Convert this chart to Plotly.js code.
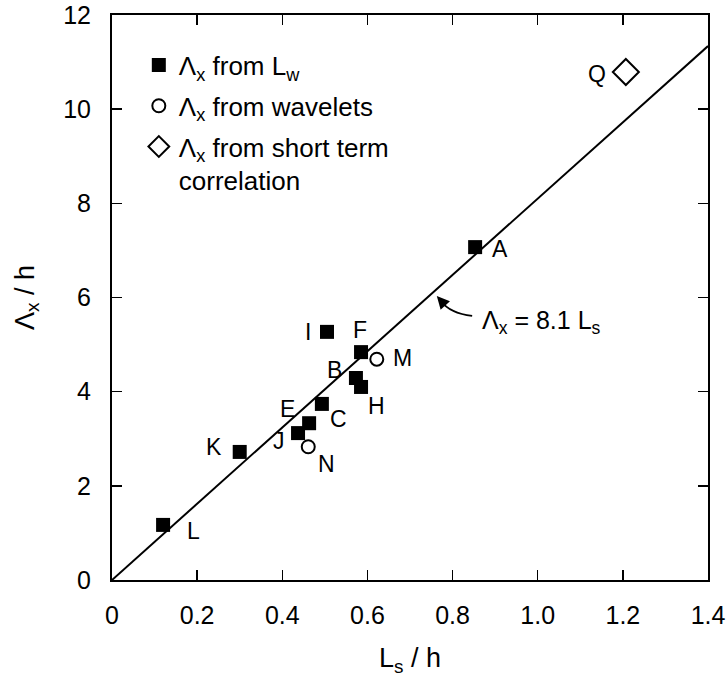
<!DOCTYPE html>
<html>
<head>
<meta charset="utf-8">
<script src="https://cdn.plot.ly/plotly-3.0.1.min.js"></script>
<style>html,body{margin:0;padding:0;background:#fff;}#chart{width:728px;height:689px;}</style>
</head>
<body>
<div id="chart"></div>
<script>
// Λx from Lw (filled squares)
const lwLabels = ["L","K","J","E","C","B","H","F","I","A"];
const lwX = [0.120, 0.300, 0.437, 0.463, 0.493, 0.573, 0.585, 0.585, 0.505, 0.853];
const lwY = [1.17, 2.72, 3.12, 3.33, 3.74, 4.29, 4.10, 4.84, 5.27, 7.07];
// Λx from wavelets (open circles)
const wvLabels = ["N","M"];
const wvX = [0.461, 0.622];
const wvY = [2.83, 4.69];
// Λx from short term correlation (open diamond)
const stLabels = ["Q"];
const stX = [1.207];
const stY = [10.79];
// fit line Λx = 8.1 Ls
const fitX = [0, 1.4];
const fitY = [0, 11.34];
// point-label positions (data coords)
const labelText = ["L","K","J","E","C","B","H","F","I","A","N","M","Q"];
const labelX = [0.191, 0.239, 0.393, 0.413, 0.533, 0.523, 0.622, 0.583, 0.460, 0.911, 0.505, 0.683, 1.140];
const labelY = [1.04, 2.83, 2.95, 3.63, 3.43, 4.45, 3.69, 5.31, 5.27, 7.04, 2.47, 4.71, 10.74];

const font = "Liberation Sans, Arial, Helvetica, sans-serif";

const traces = [
  {x: fitX, y: fitY, mode: "lines", line: {color: "#000", width: 2}, showlegend: false, hoverinfo: "skip"},
  {x: lwX, y: lwY, text: lwLabels, mode: "markers", name: "Λ<sub>x</sub> from L<sub>w</sub>", legendgroup: "g1",
   marker: {symbol: "square", size: 14, color: "#000"}},
  {x: wvX, y: wvY, text: wvLabels, mode: "markers", name: "Λ<sub>x</sub> from wavelets", legendgroup: "g2",
   marker: {symbol: "circle-open", size: 13, color: "#000", line: {width: 2, color: "#000"}}},
  {x: stX, y: stY, text: stLabels, mode: "markers", name: "Λ<sub>x</sub> from short term<br>correlation", legendgroup: "g3",
   marker: {symbol: "diamond-open", size: 20, color: "#000", line: {width: 2, color: "#000"}}}
];

const annotations = labelText.map((t, i) => ({
  x: labelX[i], y: labelY[i], xref: "x", yref: "y", text: t, showarrow: false,
  font: {family: font, size: 23, color: "#000"}
}));
annotations.push({
  x: 1.008, y: 5.48, xref: "x", yref: "y", text: "Λ<sub>x</sub> = 8.1 L<sub>s</sub>", showarrow: false,
  font: {family: font, size: 25, color: "#000"}
});
annotations.push({
  x: 0.763, y: 6.03, xref: "x", yref: "y", text: "", showarrow: true,
  ax: 10, ay: 11, arrowhead: 2, arrowsize: 1.4, arrowwidth: 1.8, arrowcolor: "#000"
});

const axisCommon = {
  showgrid: false, zeroline: false, showline: true, linecolor: "#000", linewidth: 2,
  mirror: "ticks", ticks: "inside", ticklen: 10, tickwidth: 1.5, tickcolor: "#000",
  tickfont: {family: font, size: 25, color: "#000"}
};

const layout = {
  width: 728, height: 689,
  margin: {l: 112, r: 20, t: 15, b: 109},
  paper_bgcolor: "#fff", plot_bgcolor: "#fff",
  font: {family: font, color: "#000"},
  xaxis: Object.assign({}, axisCommon, {
    range: [0, 1.4], tickvals: [0, 0.2, 0.4, 0.6, 0.8, 1.0, 1.2, 1.4],
    ticktext: ["0", "0.2", "0.4", "0.6", "0.8", "1.0", "1.2", "1.4"],
    ticklabelstandoff: 12,
    title: {text: "L<sub>s</sub> / h", font: {family: font, size: 27, color: "#000"}, standoff: 20}
  }),
  yaxis: Object.assign({}, axisCommon, {
    range: [0, 12], tickvals: [0, 2, 4, 6, 8, 10, 12],
    ticklabelstandoff: 14,
    title: {text: "Λ<sub>x</sub> / h", font: {family: font, size: 27, color: "#000"}, standoff: 21}
  }),
  legend: {x: 0.045, y: 0.953, xanchor: "left", yanchor: "top", bgcolor: "rgba(0,0,0,0)",
    font: {family: font, size: 26, color: "#000"}, tracegroupgap: 4, itemwidth: 30, valign: "top"},
  shapes: [{
    type: "path", xref: "x", yref: "y",
    path: "M 0.846,5.61 Q 0.794,5.66 0.772,5.93",
    line: {color: "#000", width: 1.8}
  }],
  annotations: annotations
};

Plotly.newPlot("chart", traces, layout, {displayModeBar: false, staticPlot: true});
</script>
</body>
</html>
